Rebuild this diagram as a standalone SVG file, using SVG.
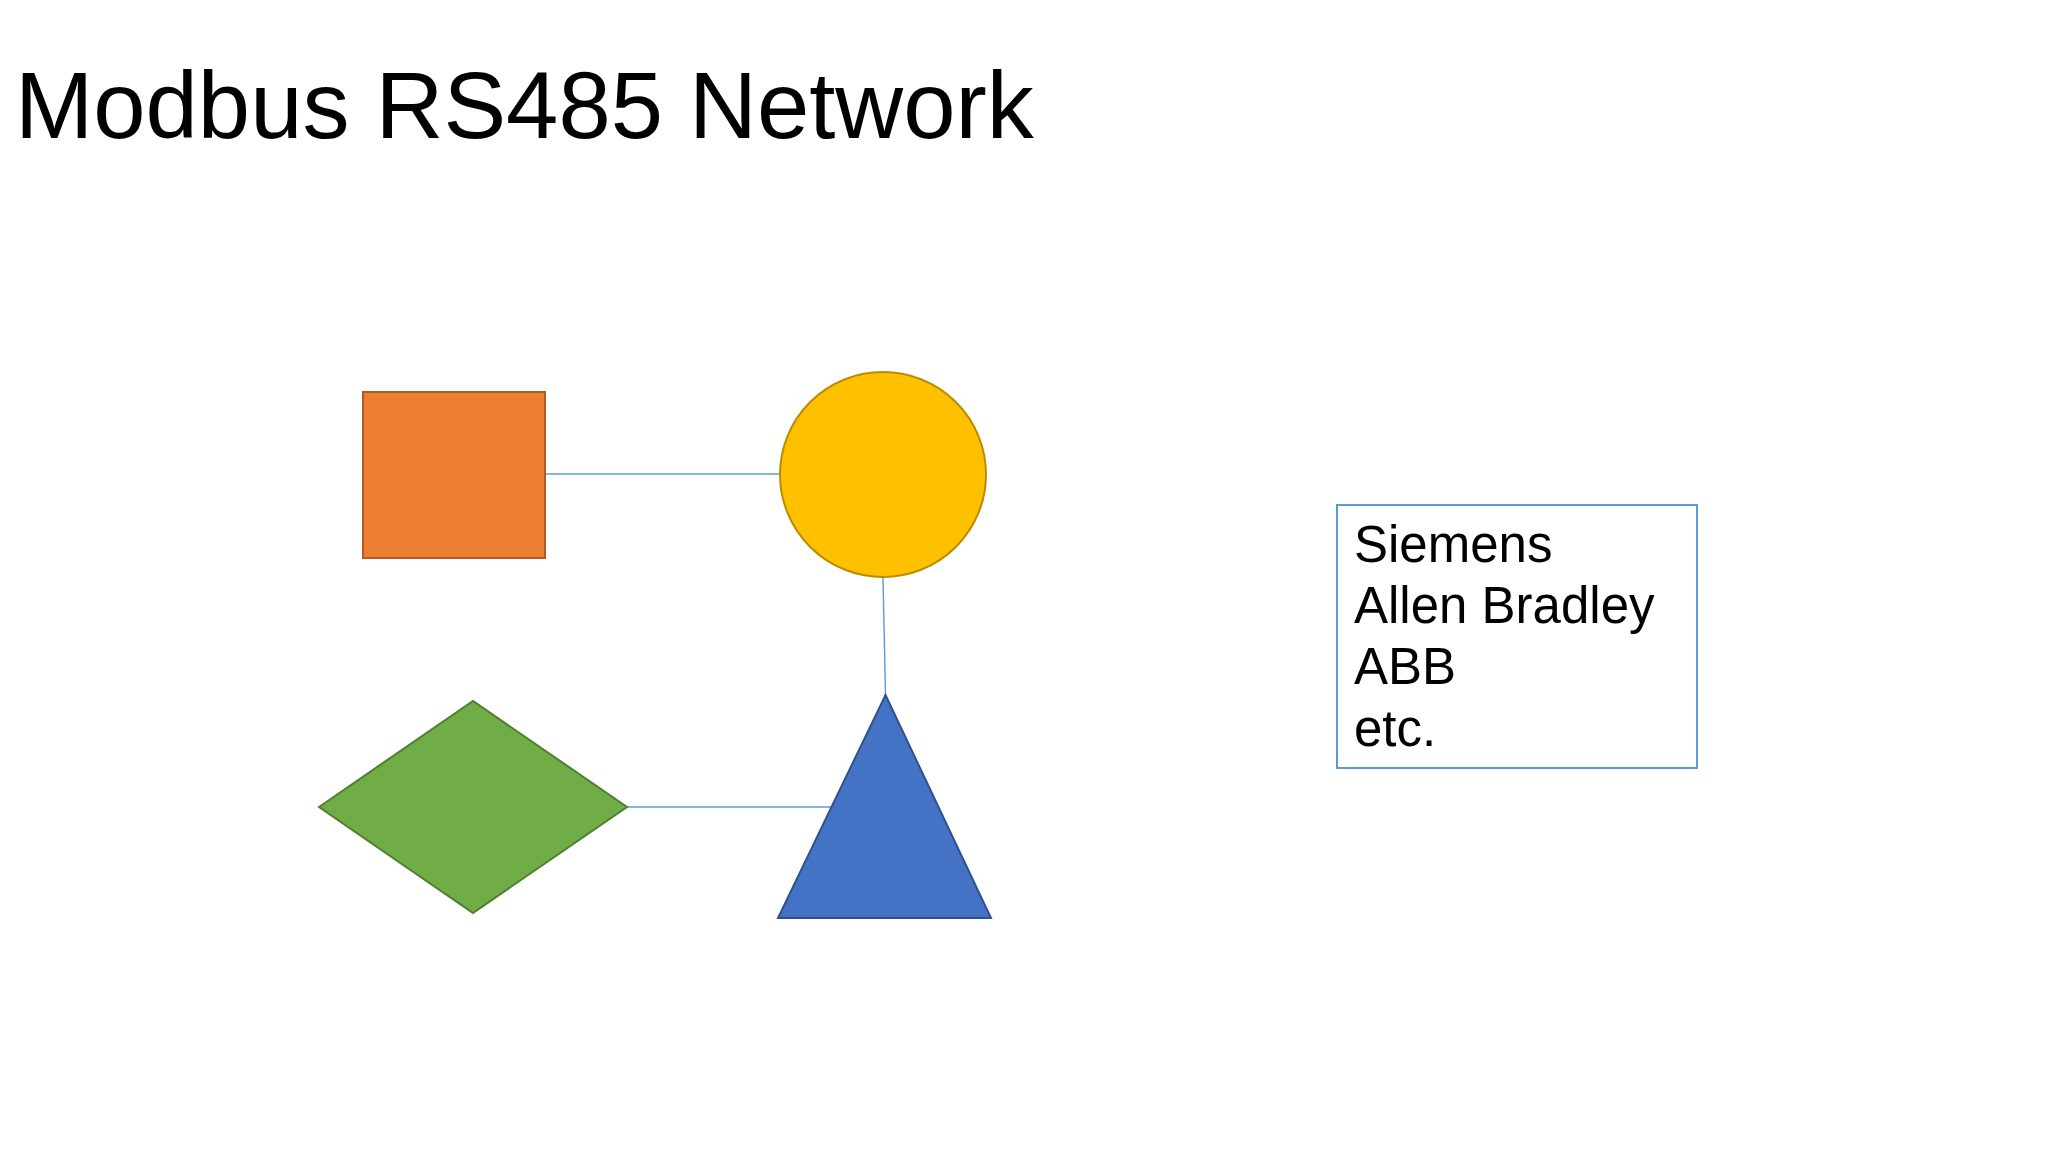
<svg xmlns="http://www.w3.org/2000/svg" width="2048" height="1152" viewBox="0 0 2048 1152">
<style>
text{font-family:"Liberation Sans",Arial,sans-serif;fill:#000}
.conn{stroke:#5B9BD5;stroke-width:1.4;fill:none}
</style>
<rect width="2048" height="1152" fill="#fff"/>
<text id="title" x="15" y="138" font-size="94">Modbus RS485 Network</text>
<g id="connectors">
<line class="conn" x1="545" y1="474" x2="780" y2="474"/>
<line class="conn" x1="883" y1="577" x2="885.5" y2="695"/>
<line class="conn" x1="627" y1="807" x2="831" y2="807"/>
</g>
<g id="square"><rect x="363" y="392" width="182" height="166" fill="#ED7D31" stroke="#AE5A21" stroke-width="2"/></g>
<g id="circle"><ellipse cx="883" cy="474.5" rx="103" ry="102.5" fill="#FFC000" stroke="#BC8C00" stroke-width="2"/></g>
<g id="triangle"><polygon points="885.5,695 991,918 778,918" fill="#4472C4" stroke="#2F528F" stroke-width="2"/></g>
<g id="diamond"><polygon points="319,807 473,701 627,807 473,913" fill="#70AD47" stroke="#507E32" stroke-width="2"/></g>
<g id="vendors">
<rect x="1337" y="505" width="360" height="263" fill="#fff" stroke="#5B9BD5" stroke-width="2"/>
<text x="1354" y="562" font-size="51">Siemens</text>
<text x="1354" y="623" font-size="51">Allen Bradley</text>
<text x="1354" y="684" font-size="51">ABB</text>
<text x="1354" y="746" font-size="51">etc.</text>
</g>
</svg>
